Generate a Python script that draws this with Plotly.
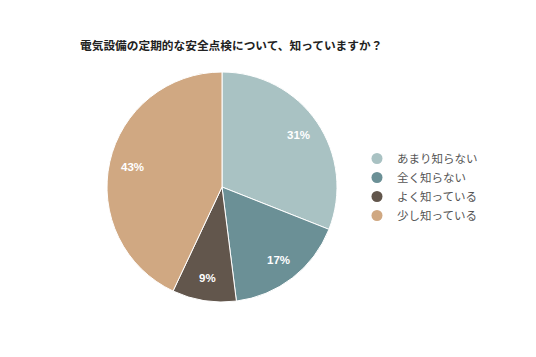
import math
import plotly.graph_objects as go

title = "電気設備の定期的な安全点検について、知っていますか？"
labels = ["あまり知らない", "全く知らない", "よく知っている", "少し知っている"]
values = [31, 17, 9, 43]
colors = ["#a9c2c3", "#6b9096", "#62564c", "#d0a882"]

W, H = 536, 357
OFF = 8  # page body margin
# pie domain in pixels (page coords)
px0, px1, py0, py1 = 106 - OFF, 338 - OFF, 72 - OFF, 302 - OFF

fig = go.Figure()
fig.add_trace(go.Pie(
    labels=labels, values=values, sort=False, direction="clockwise", rotation=0,
    marker=dict(colors=colors, line=dict(color="white", width=1)),
    textinfo="none",
    showlegend=False, hoverinfo="label+percent",
    domain=dict(x=[px0 / W, px1 / W], y=[1 - py1 / H, 1 - py0 / H]),
))
for lab, col in zip(labels, colors):
    fig.add_trace(go.Scatter(x=[None], y=[None], mode="markers", name=lab,
                             marker=dict(symbol="circle", size=11, color=col)))

# percentage labels at ~0.8 radius, derived from the data
cx, cy = (px0 + px1) / 2, (py0 + py1) / 2
R = min(px1 - px0, py1 - py0) / 2
total = sum(values)
cum = 0
for v in values:
    mid = (cum + v / 2) / total * 2 * math.pi
    cum += v
    x = cx + 0.8 * R * math.sin(mid)
    y = cy - 0.8 * R * math.cos(mid)
    fig.add_annotation(x=x / W, y=1 - y / H, xref="paper", yref="paper",
                       xanchor="center", yanchor="middle",
                       text=f"<b>{round(v / total * 100)}%</b>", showarrow=False,
                       font=dict(color="white", size=11.5,
                                 family="Arial, Liberation Sans, sans-serif"))

fig.update_layout(
    width=W, height=H, margin=dict(l=0, r=0, t=0, b=0),
    paper_bgcolor="white", plot_bgcolor="white",
    font=dict(family="Noto Sans CJK JP, sans-serif", color="#333333"),
    title=dict(text=title, x=(80 - OFF) / W, xanchor="left", y=1 - (46 - OFF) / H,
               yanchor="middle",
               font=dict(size=11.7, color="#222222", weight="bold")),
    xaxis=dict(visible=False), yaxis=dict(visible=False),
    legend=dict(x=(397 - OFF - 40) / W, y=1 - (187 - OFF) / H, xanchor="left",
                yanchor="middle",
                font=dict(size=11.5, color="#555555"), itemwidth=30, tracegroupgap=0),
)
fig.write_html("out.html")
